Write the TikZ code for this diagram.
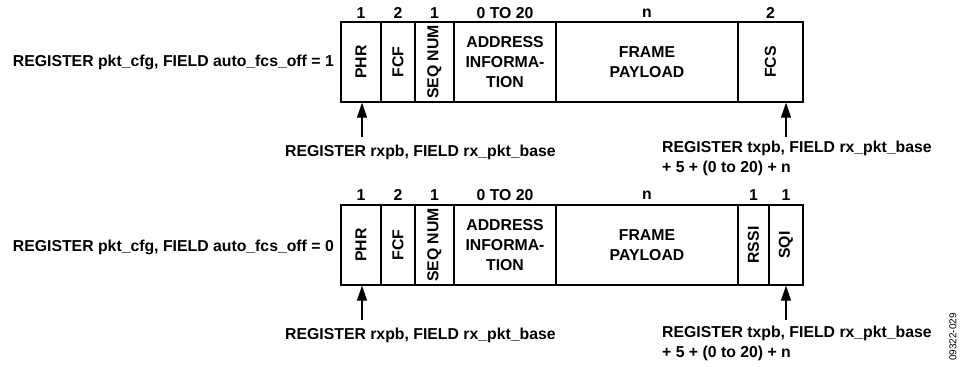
\documentclass[tikz,border=0pt]{standalone}
\usepackage{fontspec}
\setmainfont{Liberation Sans}
\usetikzlibrary{positioning,arrows.meta}
\begin{document}
\begin{tikzpicture}[
    x=1pt, y=-1pt,
    font=\fontsize{15.8}{20}\selectfont\bfseries,
    cell/.style={draw, line width=1.4pt, minimum height=80pt, inner sep=0pt, align=center},
    vcell/.style={cell, rotate=90},
    ptr/.style={-{Triangle[length=15pt,width=10pt]}, line width=1.4pt},
    note/.style={align=left, inner sep=0pt, anchor=north west}
]
    \useasboundingbox (0,0) rectangle (962,367);

    % Frame mit FCS (auto_fcs_off = 1)
    \node[anchor=east, inner sep=0pt] (cfgA) at (334,62) {REGISTER pkt\_cfg, FIELD auto\_fcs\_off = 1};
    \node[vcell, minimum width=80pt, minimum height=40pt] (phrA) at (361,62) {PHR};
    \node[vcell, minimum width=80pt, minimum height=34pt] (fcfA) at (398,62) {FCF};
    \node[vcell, minimum width=80pt, minimum height=39pt] (seqA) at (434.5,62) {SEQ NUM};
    \node[cell, minimum width=102pt] (addrA) at (505,62) {ADDRESS\\INFORMA-\\TION};
    \node[cell, minimum width=182pt] (payA) at (647,62) {FRAME\\PAYLOAD};
    \node[vcell, minimum width=80pt, minimum height=65pt] (fcsA) at (770.5,62) {FCS};

    \node[inner sep=1pt] at (361,13) {1};
    \node[inner sep=1pt] at (398,13) {2};
    \node[inner sep=1pt] at (434.5,13) {1};
    \node[inner sep=1pt] at (505,13) {0 TO 20};
    \node[inner sep=1pt] at (647,13) {n};
    \node[inner sep=1pt] at (770.5,13) {2};

    \node[anchor=west, inner sep=0pt] (rxA) at (285,152) {REGISTER rxpb, FIELD rx\_pkt\_base};
    \node[note] (txA) at (662,141) {REGISTER txpb, FIELD rx\_pkt\_base\\+ 5 + (0 to 20) + n};
    \coordinate (rxtipA) at (362,137);
    \coordinate (txtipA) at (786,137);
    \draw[ptr] (rxtipA) -- (rxtipA |- phrA.west);
    \draw[ptr] (txtipA) -- (txtipA |- fcsA.west);

    % Frame mit RSSI/SQI (auto_fcs_off = 0)
    \node[anchor=east, inner sep=0pt] (cfgB) at (334,247) {REGISTER pkt\_cfg, FIELD auto\_fcs\_off = 0};
    \node[vcell, minimum width=80pt, minimum height=40pt] (phrB) at (361,245) {PHR};
    \node[vcell, minimum width=80pt, minimum height=34pt] (fcfB) at (398,245) {FCF};
    \node[vcell, minimum width=80pt, minimum height=39pt] (seqB) at (434.5,245) {SEQ NUM};
    \node[cell, minimum width=102pt] (addrB) at (505,245) {ADDRESS\\INFORMA-\\TION};
    \node[cell, minimum width=182pt] (payB) at (647,245) {FRAME\\PAYLOAD};
    \node[vcell, minimum width=80pt, minimum height=31pt] (rssiB) at (753.5,245) {RSSI};
    \node[vcell, minimum width=80pt, minimum height=34pt] (sqiB) at (786,245) {SQI};

    \node[inner sep=1pt] at (361,195) {1};
    \node[inner sep=1pt] at (398,195) {2};
    \node[inner sep=1pt] at (434.5,195) {1};
    \node[inner sep=1pt] at (505,195) {0 TO 20};
    \node[inner sep=1pt] at (647,195) {n};
    \node[inner sep=1pt] at (753.5,195) {1};
    \node[inner sep=1pt] at (786,195) {1};

    \node[anchor=west, inner sep=0pt] (rxB) at (285,335) {REGISTER rxpb, FIELD rx\_pkt\_base};
    \node[note] (txB) at (662,326) {REGISTER txpb, FIELD rx\_pkt\_base\\+ 5 + (0 to 20) + n};
    \coordinate (rxtipB) at (362,320);
    \coordinate (txtipB) at (786,320);
    \draw[ptr] (rxtipB) -- (rxtipB |- phrB.west);
    \draw[ptr] (txtipB) -- (sqiB.west);

    \node[rotate=90, font=\fontsize{10}{11}\selectfont, inner sep=0pt] (figno) at (953,337) {09322-029};
\end{tikzpicture}
\end{document}
